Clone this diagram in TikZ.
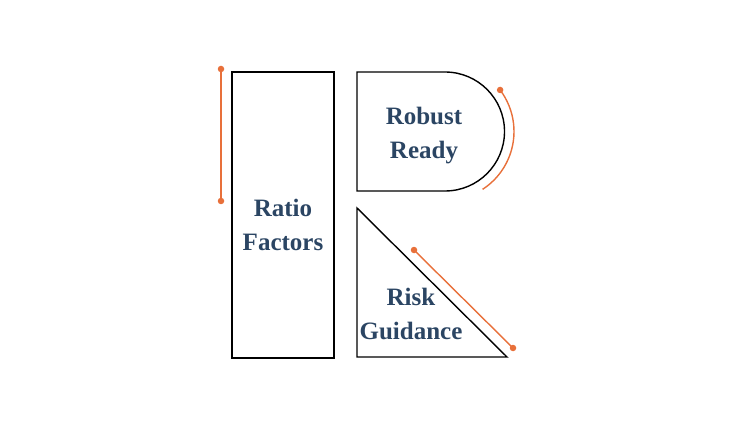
\documentclass[tikz,border=0pt]{standalone}
\usepackage{fontspec}
\setmainfont{Liberation Serif}
\usetikzlibrary{calc}
\definecolor{navy}{HTML}{2B4563}
\definecolor{accent}{HTML}{E8703A}
\begin{document}
\begin{tikzpicture}[x=1pt,y=1pt,
  outline/.style={draw=black,line width=1.4pt,line join=miter},
  accline/.style={draw=accent,line width=1.4pt},
  dot/.style={circle,fill=accent,inner sep=0pt,minimum size=6.5pt},
  label/.style={text=navy,font=\bfseries\fontsize{25}{34}\selectfont,align=center,inner sep=0pt}]
\useasboundingbox (0,0) rectangle (741,445);
% Ratio Factors rectangle
\draw[outline] (232,373) rectangle (334,87);
\node[label] (ratio) at (283,220) {Ratio\\Factors};
\coordinate (a1) at (221,376);
\coordinate (a2) at (221,244);
\draw[accline] (a1) -- (a2);
\node[dot] at (a1) {};
\node[dot] at (a2) {};
% Robust Ready D shape
\draw[outline] (357,373) -- (445,373) arc[start angle=90,end angle=-90,radius=59.5] -- (357,254) -- cycle;
\node[label] (robust) at (424,309) {Robust\\Ready};
\coordinate (dc) at (445,313.5);
\coordinate (c1) at ($(dc)+(37:69)$);
\draw[accline] (c1) arc[start angle=37,end angle=-57,radius=69];
\node[dot] at (c1) {};
% Risk Guidance triangle
\draw[outline] (357,237) -- (357,88) -- (507,88) -- cycle;
\node[label] (risk) at (411,131) {Risk\\Guidance};
\coordinate (b1) at (414,195);
\coordinate (b2) at (513,97);
\draw[accline] (b1) -- (b2);
\node[dot] at (b1) {};
\node[dot] at (b2) {};
\end{tikzpicture}
\end{document}
